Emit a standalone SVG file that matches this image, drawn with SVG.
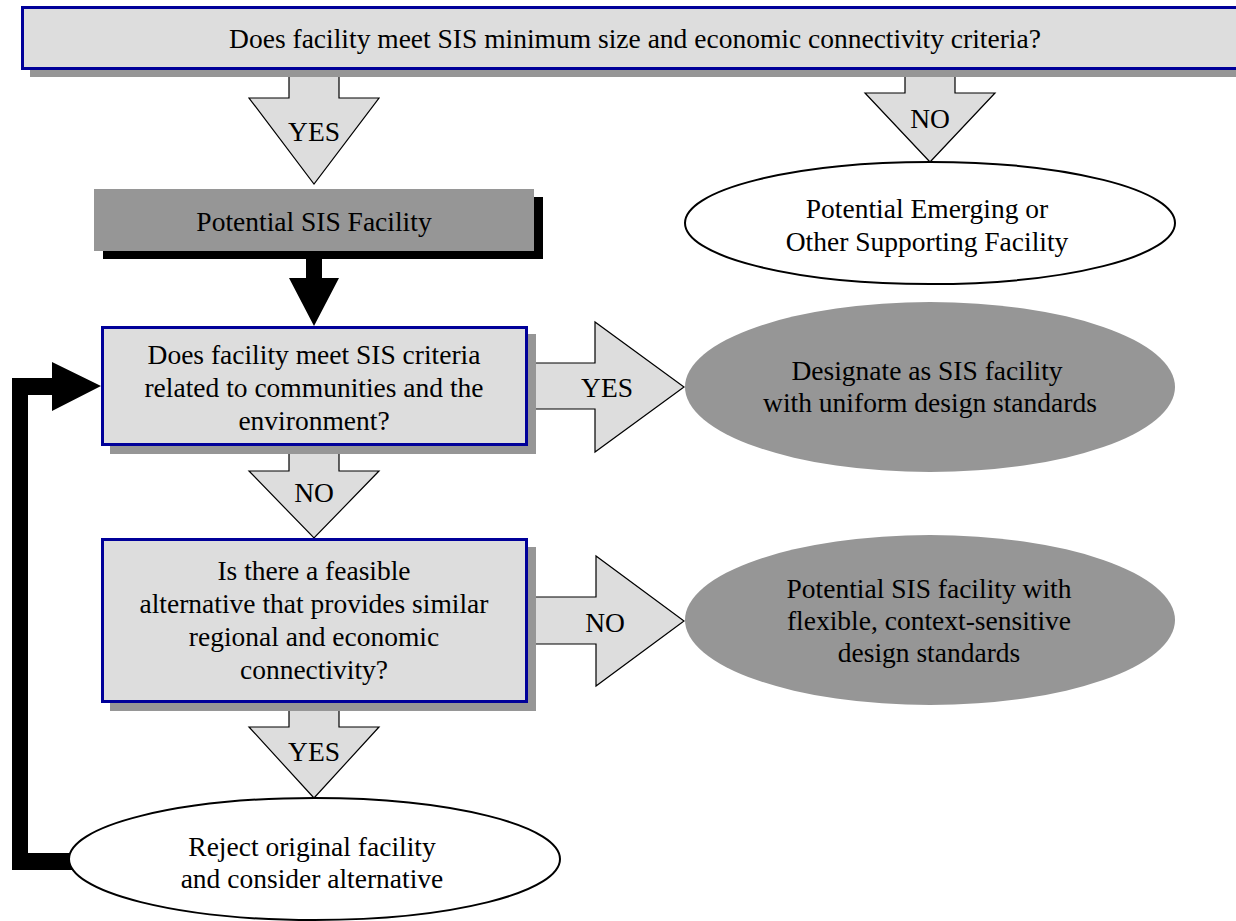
<svg xmlns="http://www.w3.org/2000/svg" width="1236" height="921" viewBox="0 0 1236 921" font-family="'Liberation Serif', 'DejaVu Serif', serif">
<style>
text { font-family: 'Liberation Serif', 'Times New Roman', 'DejaVu Serif', serif; font-size: 27.5px; fill: #000; text-anchor: middle; }
.q { fill: #DDDDDD; stroke: #000099; stroke-width: 3; }
.sh { fill: #969696; }
.gray { fill: #969696; }
.arr { fill: #DDDDDD; stroke: #000; stroke-width: 1.2; stroke-linejoin: miter; }
.white { fill: #fff; stroke: #000; stroke-width: 2; }
</style>
<rect x="0" y="0" width="1236" height="921" fill="#fff"/>
<g id="connectors">
  <polygon class="arr" points="289,72 339,72 339,98 379,98 314,184 249,98 289,98"/>
  <polygon class="arr" points="905,72 955,72 955,93 995,93 930,162 865,93 905,93"/>
  <polygon fill="#000" points="306,250 322,250 322,278 339,278 314,326 289,278 306,278"/>
  <polygon class="arr" points="530,363 595,363 595,322 684,387 595,452 595,409 530,409"/>
  <polygon class="arr" points="289,450 339,450 339,471 379,471 314,538 249,471 289,471"/>
  <polygon class="arr" points="530,597 596,597 596,556 684,621 596,686 596,644 530,644"/>
  <polygon class="arr" points="289,706 339,706 339,727 379,727 314,798 249,727 289,727"/>
  <polygon fill="#000" points="12,378 52,378 52,362 101,386 52,411 52,395 28,395 28,853 80,853 80,870 12,870"/>
</g>
<g id="q1">
  <rect class="sh" x="30" y="15" width="1220" height="62"/>
  <rect class="q" x="22.5" y="7.5" width="1225" height="61"/>
  <text x="635" y="48" font-family="'Liberation Serif', serif">Does facility meet SIS minimum size and economic connectivity criteria?</text>
</g>
<g id="lbl-yes1"><text x="314" y="141">YES</text></g>
<g id="lbl-no1"><text x="930" y="128">NO</text></g>
<g id="potential-sis">
  <rect fill="#000" x="103" y="197" width="440" height="62"/>
  <rect class="gray" x="94" y="189" width="440" height="62"/>
  <text x="314" y="231">Potential SIS Facility</text>
</g>
<g id="emerging">
  <ellipse class="white" cx="930" cy="223" rx="245" ry="61"/>
  <text x="927" y="218">Potential Emerging or</text>
  <text x="927" y="251">Other Supporting Facility</text>
</g>
<g id="q2">
  <rect class="sh" x="110" y="334" width="426" height="120"/>
  <rect class="q" x="102.5" y="327.5" width="424" height="117"/>
  <text x="314" y="364">Does facility meet SIS criteria</text>
  <text x="314" y="397">related to communities and the</text>
  <text x="314" y="430">environment?</text>
</g>
<g id="lbl-yes2"><text x="607" y="397">YES</text></g>
<g id="designate">
  <ellipse class="gray" cx="930" cy="387" rx="245" ry="85"/>
  <text x="927" y="380">Designate as SIS facility</text>
  <text x="930" y="412">with uniform design standards</text>
</g>
<g id="lbl-no2"><text x="314" y="502">NO</text></g>
<g id="q3">
  <rect class="sh" x="110" y="547" width="426" height="164"/>
  <rect class="q" x="102.5" y="539.5" width="424" height="162"/>
  <text x="314" y="580">Is there a feasible</text>
  <text x="314" y="613">alternative that provides similar</text>
  <text x="314" y="646">regional and economic</text>
  <text x="314" y="679">connectivity?</text>
</g>
<g id="lbl-no3"><text x="605" y="632">NO</text></g>
<g id="flexible">
  <ellipse class="gray" cx="930" cy="620" rx="245" ry="85"/>
  <text x="929" y="598">Potential SIS facility with</text>
  <text x="929" y="630">flexible, context-sensitive</text>
  <text x="929" y="662">design standards</text>
</g>
<g id="lbl-yes3"><text x="314" y="761">YES</text></g>
<g id="reject">
  <ellipse class="white" cx="314.5" cy="859" rx="245.5" ry="61"/>
  <text x="312" y="856">Reject original facility</text>
  <text x="312" y="888">and consider alternative</text>
</g>
</svg>
